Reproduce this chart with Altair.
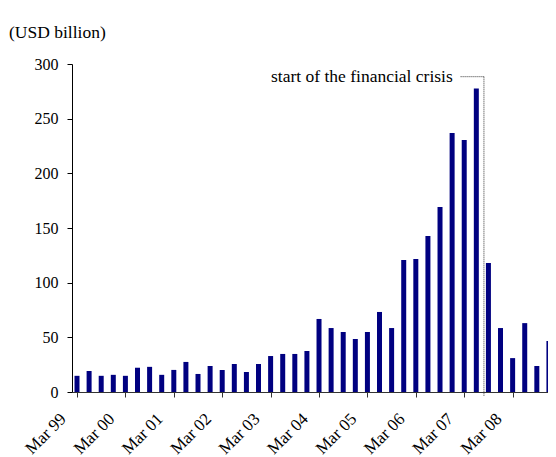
import altair as alt
import pandas as pd

# Quarterly values, Mar 99 .. Dec 08 (USD billion)
quarter_index = list(range(40))
values = [14.8, 19.2, 14.8, 15.7, 14.8, 22.2, 23.0, 15.7, 20.2, 27.5,
          16.5, 23.8, 20.1, 25.6, 18.3, 25.6, 32.9, 34.8, 34.8, 37.5,
          66.8, 58.5, 54.9, 48.5, 54.9, 73.2, 58.5, 120.7, 121.6, 142.7,
          169.2, 236.9, 230.5, 277.5, 118.0, 58.5, 31.0, 63.0, 23.8, 46.7]

tick_positions = [0, 4, 8, 12, 16, 20, 24, 28, 32, 36]
tick_labels = ["Mar 99", "Mar 00", "Mar 01", "Mar 02", "Mar 03",
               "Mar 04", "Mar 05", "Mar 06", "Mar 07", "Mar 08"]
y_ticks = [0, 50, 100, 150, 200, 250, 300]

crisis_x = 33.63
crisis_leader_start = 31.7
crisis_y = 288.4
crisis_text_x = 31.05
crisis_text_y = 283.5
crisis_label = "start of the financial crisis"

FONT = "Liberation Serif"

df = pd.DataFrame({"k": quarter_index, "v": values})

label_expr = "[" + ",".join("'" + t + "'" for t in tick_labels) + "][round(datum.value/4)]"

x_scale = alt.Scale(domain=[0, 38.51], nice=False, zero=False)
y_scale = alt.Scale(domain=[0, 300], nice=False)

bars = alt.Chart(df).mark_bar(size=5, color="#000080", clip=True).encode(
    x=alt.X("k:Q", scale=x_scale,
            axis=alt.Axis(title=None, values=tick_positions, labelExpr=label_expr,
                          labelAngle=-45, labelAlign="right", labelBaseline="middle",
                          labelPadding=19, labelOffset=-14, tickSize=5, grid=False,
                          labelFontSize=17, labelColor="black",
                          domainColor="#333333", tickColor="#333333")),
    y=alt.Y("v:Q", scale=y_scale,
            axis=alt.Axis(title=None, values=y_ticks, tickSize=5, labelPadding=9,
                          grid=False, labelFontSize=16, labelColor="black",
                          domainColor="black", tickColor="black")),
)

lines_df = pd.DataFrame({
    "x": [crisis_leader_start, crisis_x],
    "x2": [crisis_x, crisis_x],
    "y": [crisis_y, crisis_y],
    "y2": [crisis_y, -3.5],
})
lines = alt.Chart(lines_df).mark_rule(color="#333333", strokeWidth=1, strokeDash=[1, 1]).encode(
    x=alt.X("x:Q", scale=x_scale), x2="x2:Q",
    y=alt.Y("y:Q", scale=y_scale), y2="y2:Q",
)

text_df = pd.DataFrame({"x": [crisis_text_x], "y": [crisis_text_y], "t": [crisis_label]})
text = alt.Chart(text_df).mark_text(align="right", baseline="alphabetic", fontSize=17.5,
                                     font=FONT, color="black").encode(
    x=alt.X("x:Q", scale=x_scale), y=alt.Y("y:Q", scale=y_scale), text="t:N"
)

chart = alt.layer(bars, lines, text).properties(
    width=476, height=328,
    autosize=alt.AutoSizeParams(type="none"),
    padding={"left": 64, "top": 56, "right": 0, "bottom": 65},
    title=alt.TitleParams("(USD billion)", anchor="start", frame="group", font=FONT,
                          fontSize=17.5, fontWeight="normal", color="black",
                          dx=-63, offset=1, baseline="alphabetic"),
    background="white",
).configure_view(stroke=None).configure_axis(labelFont=FONT)

chart.save("out.html", embed_options={"renderer": "svg", "actions": False})
